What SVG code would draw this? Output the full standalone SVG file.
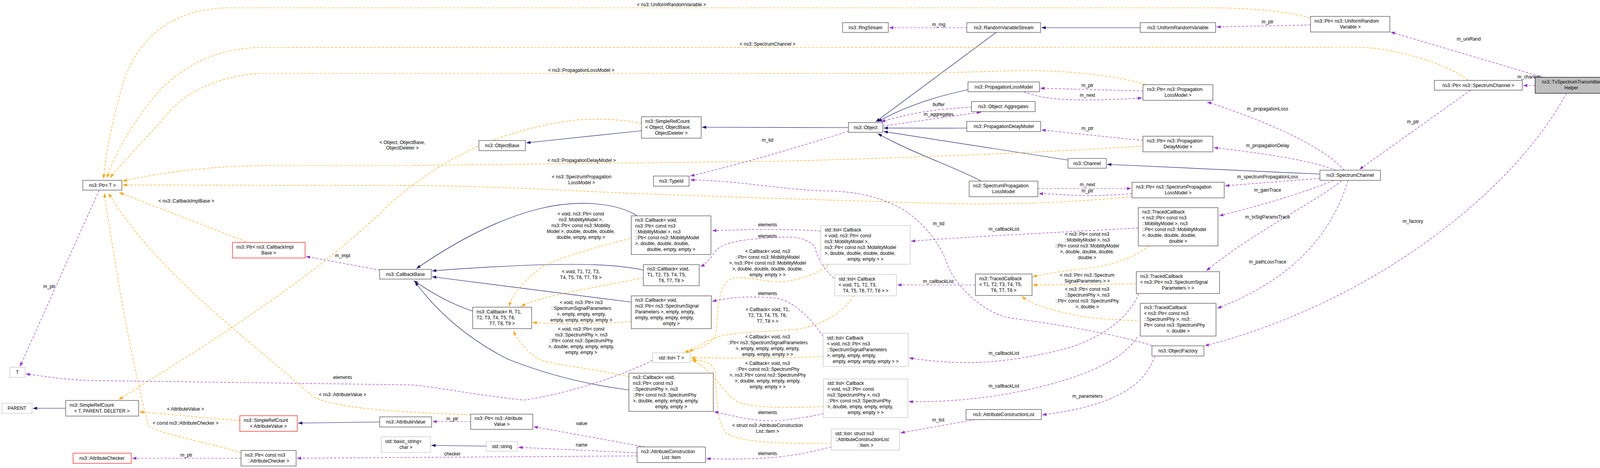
<svg xmlns="http://www.w3.org/2000/svg" width="4211" height="1199" viewBox="0 0 4211 1199">
<defs>
<marker id="an" markerWidth="11" markerHeight="8" refX="11" refY="4" orient="auto" markerUnits="userSpaceOnUse"><path d="M0,0 L11,4 L0,8 z" fill="#191970"/></marker>
<marker id="ap" markerWidth="11" markerHeight="8" refX="11" refY="4" orient="auto" markerUnits="userSpaceOnUse"><path d="M0,0 L11,4 L0,8 z" fill="#9a32cd"/></marker>
<marker id="ao" markerWidth="11" markerHeight="8" refX="11" refY="4" orient="auto" markerUnits="userSpaceOnUse"><path d="M0,0 L11,4 L0,8 z" fill="#ffa500"/></marker>
</defs>
<style>
text{font-family:"Liberation Sans",Arial,sans-serif;font-size:12px;fill:#000}
.c{text-anchor:middle}
.n rect{fill:#fff;stroke:#404040;stroke-width:1.2}
.g rect{fill:#fff;stroke:#bfbfbf;stroke-width:1.2}
.r rect{fill:#fff;stroke:#ff0000;stroke-width:1.2}
.h rect{fill:#bfbfbf;stroke:#000;stroke-width:1.2}
.e path{fill:none;stroke-width:1.2}
.b{stroke:#191970;marker-end:url(#an)}
.p{stroke:#9a32cd;stroke-dasharray:6,4;marker-end:url(#ap)}
.o{stroke:#ffa500;stroke-dasharray:6,4;marker-end:url(#ao)}
</style>
<rect width="4211" height="1199" fill="#fff"/>
<g id="edges" class="e">
<path class="b" d="M2550,83 L2242,312"/>
<path class="b" d="M2919,71 L2666,71"/>
<path class="b" d="M2478,230 C2420,242 2330,265 2247,312"/>
<path class="b" d="M2475,328 C2400,329 2330,328 2262,328"/>
<path class="b" d="M2734,410 L2262,337"/>
<path class="b" d="M2512,464 C2450,430 2330,390 2247,342"/>
<path class="b" d="M3379,446 L2834,421"/>
<path class="b" d="M2172,327 L1797,326"/>
<path class="b" d="M1642,335 L1347,366"/>
<path class="b" d="M1631,553 C1580,520 1480,510 1380,535 C1260,565 1150,630 1066,688"/>
<path class="b" d="M1647,692 C1560,672 1400,672 1106,694"/>
<path class="b" d="M1616,774 L1106,709"/>
<path class="b" d="M1210,797 C1160,780 1120,760 1059,719"/>
<path class="b" d="M1610,999 C1500,985 1400,960 1300,920 C1200,870 1120,800 1062,722"/>
<path class="b" d="M168,1046 L84,1046"/>
<path class="b" d="M972,1081 L763,1084"/>
<path class="b" d="M1245,1143 L1104,1141"/>
<path class="o" d="M3353,46 C3300,30 3200,20 3100,20 L590,20 C420,20 340,120 310,230 C285,320 270,400 265,458"/>
<path class="o" d="M3758,205 C3700,160 3560,121 3475,121 L660,122 C540,125 460,180 410,230 C340,310 290,400 274,456"/>
<path class="o" d="M2932,216 C2800,180 2650,178 2540,183 C2300,190 2100,188 1900,188 L670,188 C560,192 470,240 430,290 C370,360 300,430 282,456"/>
<path class="o" d="M1642,316 C1590,305 1520,303 1470,308 C1300,330 1150,390 1000,520 C800,720 500,900 304,1024"/>
<path class="o" d="M2924,374 C2700,390 2300,405 2000,413 L1050,424 L700,424 C550,424 420,440 314,464"/>
<path class="o" d="M2898,503 C2750,520 2550,525 2400,521 C2100,512 1700,500 1500,490 C1300,480 1150,475 1000,475 L314,474"/>
<path class="o" d="M629,619 L305,493"/>
<path class="o" d="M1205,1063 C1000,1055 850,1045 800,1015 C650,880 400,700 278,495"/>
<path class="o" d="M617,1160 C520,1130 400,1110 380,1090 C330,900 290,650 267,495"/>
<path class="o" d="M614,1078 L357,1055"/>
<path class="o" d="M1613,611 C1500,640 1400,670 1380,690 C1330,730 1310,760 1303,785"/>
<path class="o" d="M1647,712 C1500,740 1380,760 1334,785"/>
<path class="o" d="M1616,824 C1500,832 1420,830 1363,826"/>
<path class="o" d="M1610,965 C1500,940 1400,935 1370,915 C1340,890 1325,870 1314,848"/>
<path class="o" d="M2120,678 C2100,700 2040,720 2000,722 C1950,722 1920,708 1880,712 C1840,720 1838,780 1834,849 C1830,880 1790,895 1752,902"/>
<path class="o" d="M2185,758 C2160,800 2100,840 2024,845 C1950,850 1900,850 1850,860 C1810,870 1780,890 1764,902"/>
<path class="o" d="M2107,913 C1980,920 1850,916 1769,917"/>
<path class="o" d="M2108,1042 C2000,1045 1930,1045 1890,1030 C1850,1010 1840,960 1772,921"/>
<path class="o" d="M2128,1136 C2000,1136 1900,1135 1860,1110 C1830,1080 1835,980 1830,950 C1825,930 1800,923 1770,922"/>
<path class="o" d="M2942,630 C2900,660 2860,675 2800,685 C2720,695 2680,700 2644,709"/>
<path class="o" d="M2909,727 C2800,729 2700,730 2644,730"/>
<path class="o" d="M2911,821 C2850,820 2780,816 2720,800 C2680,790 2640,780 2616,759"/>
<path class="p" d="M254,487 L51,939"/>
<path class="p" d="M972,692 L783,657"/>
<path class="p" d="M1670,923 C1600,960 1450,1010 1341,1025 C1200,1010 1100,988 1050,986 L250,975 C180,975 120,965 66,958"/>
<path class="p" d="M617,1174 L338,1174"/>
<path class="p" d="M1631,1168 L760,1174"/>
<path class="p" d="M1631,1160 L1327,1146"/>
<path class="p" d="M1651,1145 L1366,1093"/>
<path class="p" d="M1205,1080 L1107,1080"/>
<path class="p" d="M2128,1145 C2050,1165 1980,1180 1808,1175"/>
<path class="p" d="M2101,592 C2000,585 1920,588 1823,591"/>
<path class="p" d="M2135,713 C2100,680 2090,650 2086,633 C2070,610 2030,605 2000,608 C1900,612 1850,620 1830,645 C1815,670 1800,680 1793,683"/>
<path class="p" d="M2107,862 C2080,820 2040,780 1996,765 C1900,755 1860,765 1823,772"/>
<path class="p" d="M2108,1060 C2060,1070 2000,1080 1963,1078 C1900,1075 1860,1060 1828,1055"/>
<path class="p" d="M2172,336 C2100,360 1900,420 1767,451"/>
<path class="p" d="M2949,885 C2800,840 2600,818 2573,812 C2500,790 2440,720 2425,677 C2400,600 2330,545 2303,532 C2250,505 2200,490 2110,489 C2000,486 1900,463 1767,461"/>
<path class="p" d="M2260,323 L2512,287"/>
<path class="p" d="M2487,275 C2400,278 2330,290 2255,312"/>
<path class="p" d="M2475,71 L2276,71"/>
<path class="p" d="M3355,64 L3114,69"/>
<path class="p" d="M2926,233 L2663,226"/>
<path class="p" d="M2621,235 C2660,250 2700,256 2780,256 C2850,256 2890,253 2924,251"/>
<path class="p" d="M2926,360 L2666,333"/>
<path class="p" d="M2657,483 L2896,483"/>
<path class="p" d="M2898,496 C2850,500 2800,502 2776,501 C2730,500 2700,497 2659,496"/>
<path class="p" d="M3950,198 L3560,82"/>
<path class="p" d="M3930,219 L3899,219"/>
<path class="p" d="M3765,231 L3480,434"/>
<path class="p" d="M4010,239 C3870,500 3500,780 3084,886"/>
<path class="p" d="M3441,436 C3400,390 3300,330 3090,261"/>
<path class="p" d="M3420,436 C3350,410 3250,395 3107,378"/>
<path class="p" d="M3379,457 L3136,476"/>
<path class="p" d="M3414,462 C3350,490 3250,520 3121,553"/>
<path class="p" d="M3434,463 C3380,510 3200,600 3088,694"/>
<path class="p" d="M3451,463 C3420,560 3350,700 3116,790"/>
<path class="p" d="M2914,584 C2700,596 2500,605 2332,618"/>
<path class="p" d="M2497,730 L2297,730"/>
<path class="p" d="M2915,752 C2890,820 2800,880 2700,900 C2550,935 2450,935 2327,917"/>
<path class="p" d="M2911,864 C2870,930 2750,975 2600,1005 C2500,1025 2400,1030 2326,1029"/>
<path class="p" d="M2956,912 C2930,990 2850,1040 2668,1063"/>
<path class="p" d="M2496,1075 L2305,1109"/>
</g>
<g id="labels" class="c">
<text x="1719" y="16">&lt; ns3::UniformRandomVariable &gt;</text>
<text x="1965" y="117">&lt; ns3::SpectrumChannel &gt;</text>
<text x="1488" y="184">&lt; ns3::PropagationLossModel &gt;</text>
<text x="1030" y="369">&lt; Object, ObjectBase,</text><text x="1030" y="383">ObjectDeleter &gt;</text>
<text x="1489" y="415">&lt; ns3::PropagationDelayModel &gt;</text>
<text x="1489" y="457">&lt; ns3::SpectrumPropagation</text><text x="1489" y="472">LossModel &gt;</text>
<text x="477" y="519">&lt; ns3::CallbackImplBase &gt;</text>
<text x="877" y="1015">&lt; ns3::AttributeValue &gt;</text>
<text x="475" y="1052">&lt; AttributeValue &gt;</text>
<text x="475" y="1088">&lt; const ns3::AttributeChecker &gt;</text>
<text x="1487" y="552">&lt; void, ns3::Ptr&lt; const</text><text x="1487" y="567">ns3::MobilityModel &gt;,</text><text x="1487" y="582">ns3::Ptr&lt; const ns3::Mobility</text><text x="1487" y="597">Model &gt;, double, double, double,</text><text x="1487" y="612">double, empty, empty &gt;</text>
<text x="1487" y="700">&lt; void, T1, T2, T3,</text><text x="1487" y="715">T4, T5, T6, T7, T8 &gt;</text>
<text x="1488" y="779">&lt; void, ns3::Ptr&lt; ns3</text><text x="1488" y="794">::SpectrumSignalParameters</text><text x="1488" y="809">&gt;, empty, empty, empty,</text><text x="1488" y="824">empty, empty, empty, empty &gt;</text>
<text x="1488" y="847">&lt; void, ns3::Ptr&lt; const</text><text x="1488" y="862">ns3::SpectrumPhy &gt;, ns3</text><text x="1488" y="877">::Ptr&lt; const ns3::SpectrumPhy</text><text x="1488" y="892">&gt;, double, empty, empty, empty,</text><text x="1488" y="907">empty, empty &gt;</text>
<text x="1965" y="648">&lt; Callback&lt; void, ns3</text><text x="1965" y="663">::Ptr&lt; const ns3::MobilityModel</text><text x="1965" y="678">&gt;, ns3::Ptr&lt; const ns3::MobilityModel</text><text x="1965" y="693">&gt;, double, double, double, double,</text><text x="1965" y="708">empty, empty &gt; &gt;</text>
<text x="1965" y="797">&lt; Callback&lt; void, T1,</text><text x="1965" y="812">T2, T3, T4, T5, T6,</text><text x="1965" y="827">T7, T8 &gt; &gt;</text>
<text x="1965" y="867">&lt; Callback&lt; void, ns3</text><text x="1965" y="882">::Ptr&lt; ns3::SpectrumSignalParameters</text><text x="1965" y="897">&gt;, empty, empty, empty, empty,</text><text x="1965" y="912">empty, empty, empty &gt; &gt;</text>
<text x="1965" y="935">&lt; Callback&lt; void, ns3</text><text x="1965" y="950">::Ptr&lt; const ns3::SpectrumPhy</text><text x="1965" y="965">&gt;, ns3::Ptr&lt; const ns3::SpectrumPhy</text><text x="1965" y="980">&gt;, double, empty, empty, empty,</text><text x="1965" y="995">empty, empty &gt; &gt;</text>
<text x="1965" y="1094">&lt; struct ns3::AttributeConstruction</text><text x="1965" y="1109">List::Item &gt;</text>
<text x="2783" y="604">&lt; ns3::Ptr&lt; const ns3</text><text x="2783" y="619">::MobilityModel &gt;, ns3</text><text x="2783" y="634">::Ptr&lt; const ns3::MobilityModel</text><text x="2783" y="649">&gt;, double, double, double,</text><text x="2783" y="664">double &gt;</text>
<text x="2783" y="709">&lt; ns3::Ptr&lt; ns3::Spectrum</text><text x="2783" y="724">SignalParameters &gt; &gt;</text>
<text x="2783" y="745">&lt; ns3::Ptr&lt; const ns3</text><text x="2783" y="760">::SpectrumPhy &gt;, ns3</text><text x="2783" y="775">::Ptr&lt; const ns3::SpectrumPhy</text><text x="2783" y="790">&gt;, double &gt;</text>
<text x="126" y="738">m_ptr</text>
<text x="877" y="659">m_impl</text>
<text x="877" y="971">elements</text>
<text x="477" y="1170">m_ptr</text>
<text x="1158" y="1167">checker</text>
<text x="1489" y="1144">name</text>
<text x="1489" y="1089">value</text>
<text x="1158" y="1077">m_ptr</text>
<text x="1965" y="1166">elements</text>
<text x="1965" y="580">elements</text>
<text x="1965" y="609">elements</text>
<text x="1965" y="756">elements</text>
<text x="1965" y="1061">elements</text>
<text x="1965" y="363">m_tid</text>
<text x="2403" y="577">m_tid</text>
<text x="2403" y="272">buffer</text>
<text x="2403" y="297">m_aggregates</text>
<text x="2403" y="67">m_rng</text>
<text x="3245" y="60">m_ptr</text>
<text x="2784" y="223">m_ptr</text>
<text x="2784" y="248">m_next</text>
<text x="2784" y="333">m_ptr</text>
<text x="2784" y="477">m_next</text>
<text x="2784" y="493">m_ptr</text>
<text x="3760" y="104">m_uniRand</text>
<text x="3914" y="201">m_channel</text>
<text x="3617" y="316">m_ptr</text>
<text x="3617" y="571">m_factory</text>
<text x="3245" y="283">m_propagationLoss</text>
<text x="3245" y="377">m_propagationDelay</text>
<text x="3245" y="457">m_spectrumPropagationLoss</text>
<text x="3245" y="491">m_gainTrace</text>
<text x="3245" y="560">m_txSigParamsTrace</text>
<text x="3245" y="675">m_pathLossTrace</text>
<text x="2570" y="591">m_callbackList</text>
<text x="2402" y="725">m_callbackList</text>
<text x="2570" y="909">m_callbackList</text>
<text x="2570" y="993">m_callbackList</text>
<text x="2784" y="1019">m_parameters</text>
<text x="2402" y="1080">m_list</text>
</g>
<g id="n1" class="n"><rect x="212" y="462" width="100" height="25"/><text class="c" x="262" y="479">ns3::Ptr&lt; T &gt;</text></g>
<g id="n2" class="r"><rect x="595" y="621" width="186" height="40"/><text x="605" y="637">ns3::Ptr&lt; ns3::CallbackImpl</text><text class="c" x="688" y="652">Base &gt;</text></g>
<g id="n3" class="g"><rect x="25" y="941" width="39" height="26"/><text class="c" x="44.5" y="958">T</text></g>
<g id="n4" class="g"><rect x="5" y="1033" width="77" height="26"/><text class="c" x="43.5" y="1050">PARENT</text></g>
<g id="n5" class="n"><rect x="168" y="1026" width="187" height="40"/><text x="178" y="1042">ns3::SimpleRefCount</text><text class="c" x="261" y="1057">&lt; T, PARENT, DELETER &gt;</text></g>
<g id="n6" class="r"><rect x="614" y="1065" width="147" height="40"/><text x="624" y="1081">ns3::SimpleRefCount</text><text class="c" x="687" y="1096">&lt; AttributeValue &gt;</text></g>
<g id="n7" class="r"><rect x="187" y="1161" width="149" height="26"/><text class="c" x="261" y="1178">ns3::AttributeChecker</text></g>
<g id="n8" class="n"><rect x="617" y="1154" width="141" height="40"/><text x="627" y="1170">ns3::Ptr&lt; const ns3</text><text class="c" x="687" y="1185">::AttributeChecker &gt;</text></g>
<g id="n9" class="n"><rect x="972" y="690" width="132" height="25"/><text class="c" x="1038" y="707">ns3::CallbackBase</text></g>
<g id="n10" class="n"><rect x="1226" y="360" width="119" height="26"/><text class="c" x="1285.5" y="377">ns3::ObjectBase</text></g>
<g id="n11" class="n"><rect x="1642" y="299" width="153" height="55"/><text x="1652" y="315">ns3::SimpleRefCount</text><text x="1652" y="330">&lt; Object, ObjectBase,</text><text class="c" x="1718.5" y="345">ObjectDeleter &gt;</text></g>
<g id="n12" class="n"><rect x="1673" y="451" width="91" height="26"/><text class="c" x="1718.5" y="468">ns3::TypeId</text></g>
<g id="n13" class="n"><rect x="1616" y="553" width="204" height="99"/><text x="1626" y="568">ns3::Callback&lt; void,</text><text x="1626" y="583"> ns3::Ptr&lt; const ns3</text><text x="1626" y="598">::MobilityModel &gt;, ns3</text><text x="1626" y="613">::Ptr&lt; const ns3::MobilityModel</text><text x="1626" y="628">&gt;, double, double, double,</text><text class="c" x="1718" y="643">double, empty, empty &gt;</text></g>
<g id="n14" class="n"><rect x="1647" y="678" width="143" height="54"/><text x="1657" y="693">ns3::Callback&lt; void,</text><text x="1657" y="708">T1, T2, T3, T4, T5,</text><text class="c" x="1718.5" y="723">T6, T7, T8 &gt;</text></g>
<g id="n15" class="n"><rect x="1616" y="758" width="205" height="84"/><text x="1626" y="773">ns3::Callback&lt; void,</text><text x="1626" y="788"> ns3::Ptr&lt; ns3::SpectrumSignal</text><text x="1626" y="803">Parameters &gt;, empty, empty,</text><text x="1626" y="818">empty, empty, empty, empty,</text><text class="c" x="1718.5" y="833">empty &gt;</text></g>
<g id="n16" class="n"><rect x="1210" y="787" width="151" height="55"/><text x="1220" y="803">ns3::Callback&lt; R, T1,</text><text x="1220" y="818">T2, T3, T4, T5, T6,</text><text class="c" x="1285.5" y="833">T7, T8, T9 &gt;</text></g>
<g id="n17" class="g"><rect x="1670" y="904" width="97" height="25"/><text class="c" x="1718.5" y="921">std::list&lt; T &gt;</text></g>
<g id="n18" class="n"><rect x="1610" y="956" width="216" height="98"/><text x="1620" y="971">ns3::Callback&lt; void,</text><text x="1620" y="986"> ns3::Ptr&lt; const ns3</text><text x="1620" y="1001">::SpectrumPhy &gt;, ns3</text><text x="1620" y="1016">::Ptr&lt; const ns3::SpectrumPhy</text><text x="1620" y="1031">&gt;, double, empty, empty, empty,</text><text class="c" x="1718" y="1046">empty, empty &gt;</text></g>
<g id="n19" class="n"><rect x="1205" y="1061" width="159" height="39"/><text x="1215" y="1076">ns3::Ptr&lt; ns3::Attribute</text><text class="c" x="1284.5" y="1091">Value &gt;</text></g>
<g id="n20" class="n"><rect x="972" y="1068" width="133" height="26"/><text class="c" x="1038.5" y="1085">ns3::AttributeValue</text></g>
<g id="n21" class="g"><rect x="976" y="1119" width="126" height="40"/><text x="986" y="1135">std::basic_string&lt;</text><text class="c" x="1039" y="1150">char &gt;</text></g>
<g id="n22" class="g"><rect x="1245" y="1131" width="80" height="25"/><text class="c" x="1285" y="1148">std::string</text></g>
<g id="n23" class="n"><rect x="1631" y="1145" width="175" height="40"/><text x="1641" y="1161">ns3::AttributeConstruction</text><text class="c" x="1718.5" y="1176">List::Item</text></g>
<g id="n24" class="n"><rect x="2157" y="58" width="117" height="25"/><text class="c" x="2215.5" y="75">ns3::RngStream</text></g>
<g id="n25" class="n"><rect x="2475" y="58" width="189" height="25"/><text class="c" x="2569.5" y="75">ns3::RandomVariableStream</text></g>
<g id="n26" class="n"><rect x="2919" y="58" width="193" height="25"/><text class="c" x="3015.5" y="75">ns3::UniformRandomVariable</text></g>
<g id="n27" class="n"><rect x="2478" y="210" width="183" height="25"/><text class="c" x="2569.5" y="227">ns3::PropagationLossModel</text></g>
<g id="n28" class="n"><rect x="2926" y="217" width="179" height="40"/><text x="2936" y="233">ns3::Ptr&lt; ns3::Propagation</text><text class="c" x="3015.5" y="248">LossModel &gt;</text></g>
<g id="n29" class="n"><rect x="2487" y="260" width="163" height="26"/><text class="c" x="2568.5" y="277">ns3::Object::Aggregates</text></g>
<g id="n30" class="n"><rect x="2172" y="314" width="88" height="25"/><text class="c" x="2216" y="331">ns3::Object</text></g>
<g id="n31" class="n"><rect x="2475" y="311" width="189" height="26"/><text class="c" x="2569.5" y="328">ns3::PropagationDelayModel</text></g>
<g id="n32" class="n"><rect x="2926" y="349" width="179" height="40"/><text x="2936" y="365">ns3::Ptr&lt; ns3::Propagation</text><text class="c" x="3015.5" y="380">DelayModel &gt;</text></g>
<g id="n33" class="n"><rect x="2734" y="406" width="98" height="25"/><text class="c" x="2783" y="423">ns3::Channel</text></g>
<g id="n34" class="n"><rect x="2481" y="464" width="176" height="40"/><text x="2491" y="480">ns3::SpectrumPropagation</text><text class="c" x="2569" y="495">LossModel</text></g>
<g id="n35" class="n"><rect x="2898" y="467" width="236" height="40"/><text x="2908" y="483">ns3::Ptr&lt; ns3::SpectrumPropagation</text><text class="c" x="3016" y="498">LossModel &gt;</text></g>
<g id="n36" class="n"><rect x="2914" y="532" width="204" height="98"/><text x="2924" y="547">ns3::TracedCallback</text><text x="2924" y="562">&lt; ns3::Ptr&lt; const ns3</text><text x="2924" y="577">::MobilityModel &gt;, ns3</text><text x="2924" y="592">::Ptr&lt; const ns3::MobilityModel</text><text x="2924" y="607"> &gt;, double, double, double,</text><text class="c" x="3016" y="622">double &gt;</text></g>
<g id="n37" class="g"><rect x="2101" y="578" width="229" height="99"/><text x="2111" y="593">std::list&lt; Callback</text><text x="2111" y="608">&lt; void, ns3::Ptr&lt; const</text><text x="2111" y="623"> ns3::MobilityModel &gt;,</text><text x="2111" y="638"> ns3::Ptr&lt; const ns3::MobilityModel</text><text x="2111" y="653">&gt;, double, double, double, double,</text><text class="c" x="2215.5" y="668">empty, empty &gt; &gt;</text></g>
<g id="n38" class="g"><rect x="2137" y="703" width="158" height="55"/><text x="2147" y="719">std::list&lt; Callback</text><text x="2147" y="734">&lt; void, T1, T2, T3,</text><text class="c" x="2216" y="749">T4, T5, T6, T7, T8 &gt; &gt;</text></g>
<g id="n39" class="n"><rect x="2497" y="702" width="145" height="55"/><text x="2507" y="718">ns3::TracedCallback</text><text x="2507" y="733">&lt; T1, T2, T3, T4, T5,</text><text class="c" x="2569.5" y="748">T6, T7, T8 &gt;</text></g>
<g id="n40" class="n"><rect x="2909" y="696" width="213" height="56"/><text x="2919" y="712">ns3::TracedCallback</text><text x="2919" y="727">&lt; ns3::Ptr&lt; ns3::SpectrumSignal</text><text class="c" x="3015.5" y="742">Parameters &gt; &gt;</text></g>
<g id="n41" class="n"><rect x="2919" y="777" width="194" height="84"/><text x="2929" y="792">ns3::TracedCallback</text><text x="2929" y="807">&lt; ns3::Ptr&lt; const ns3</text><text x="2929" y="822">::SpectrumPhy &gt;, ns3::</text><text x="2929" y="837">Ptr&lt; const ns3::SpectrumPhy</text><text class="c" x="3016" y="852">&gt;, double &gt;</text></g>
<g id="n42" class="n"><rect x="2949" y="886" width="133" height="26"/><text class="c" x="3015.5" y="903">ns3::ObjectFactory</text></g>
<g id="n43" class="g"><rect x="2107" y="854" width="218" height="85"/><text x="2117" y="870">std::list&lt; Callback</text><text x="2117" y="885">&lt; void, ns3::Ptr&lt; ns3</text><text x="2117" y="900">::SpectrumSignalParameters</text><text x="2117" y="915"> &gt;, empty, empty, empty,</text><text class="c" x="2216" y="930">empty, empty, empty, empty &gt; &gt;</text></g>
<g id="n44" class="g"><rect x="2108" y="971" width="216" height="99"/><text x="2118" y="986">std::list&lt; Callback</text><text x="2118" y="1001">&lt; void, ns3::Ptr&lt; const</text><text x="2118" y="1016"> ns3::SpectrumPhy &gt;, ns3</text><text x="2118" y="1031">::Ptr&lt; const ns3::SpectrumPhy</text><text x="2118" y="1046"> &gt;, double, empty, empty, empty,</text><text class="c" x="2216" y="1061">empty, empty &gt; &gt;</text></g>
<g id="n45" class="n"><rect x="2473" y="1049" width="193" height="26"/><text class="c" x="2569.5" y="1066">ns3::AttributeConstructionList</text></g>
<g id="n46" class="g"><rect x="2128" y="1099" width="175" height="54"/><text x="2138" y="1115">std::list&lt; struct ns3</text><text x="2138" y="1130">::AttributeConstructionList</text><text class="c" x="2215.5" y="1145">::Item &gt;</text></g>
<g id="n47" class="n"><rect x="3355" y="42" width="203" height="40"/><text x="3365" y="58">ns3::Ptr&lt; ns3::UniformRandom</text><text class="c" x="3456.5" y="73">Variable &gt;</text></g>
<g id="n48" class="n"><rect x="3672" y="206" width="225" height="25"/><text class="c" x="3784.5" y="223">ns3::Ptr&lt; ns3::SpectrumChannel &gt;</text></g>
<g id="n49" class="h"><rect x="3930" y="198" width="185" height="41"/><text class="c" x="4022.5" y="214">ns3::TvSpectrumTransmitter</text><text class="c" x="4022.5" y="229">Helper</text></g>
<g id="n50" class="n"><rect x="3379" y="436" width="155" height="26"/><text class="c" x="3456.5" y="453">ns3::SpectrumChannel</text></g>
</svg>
